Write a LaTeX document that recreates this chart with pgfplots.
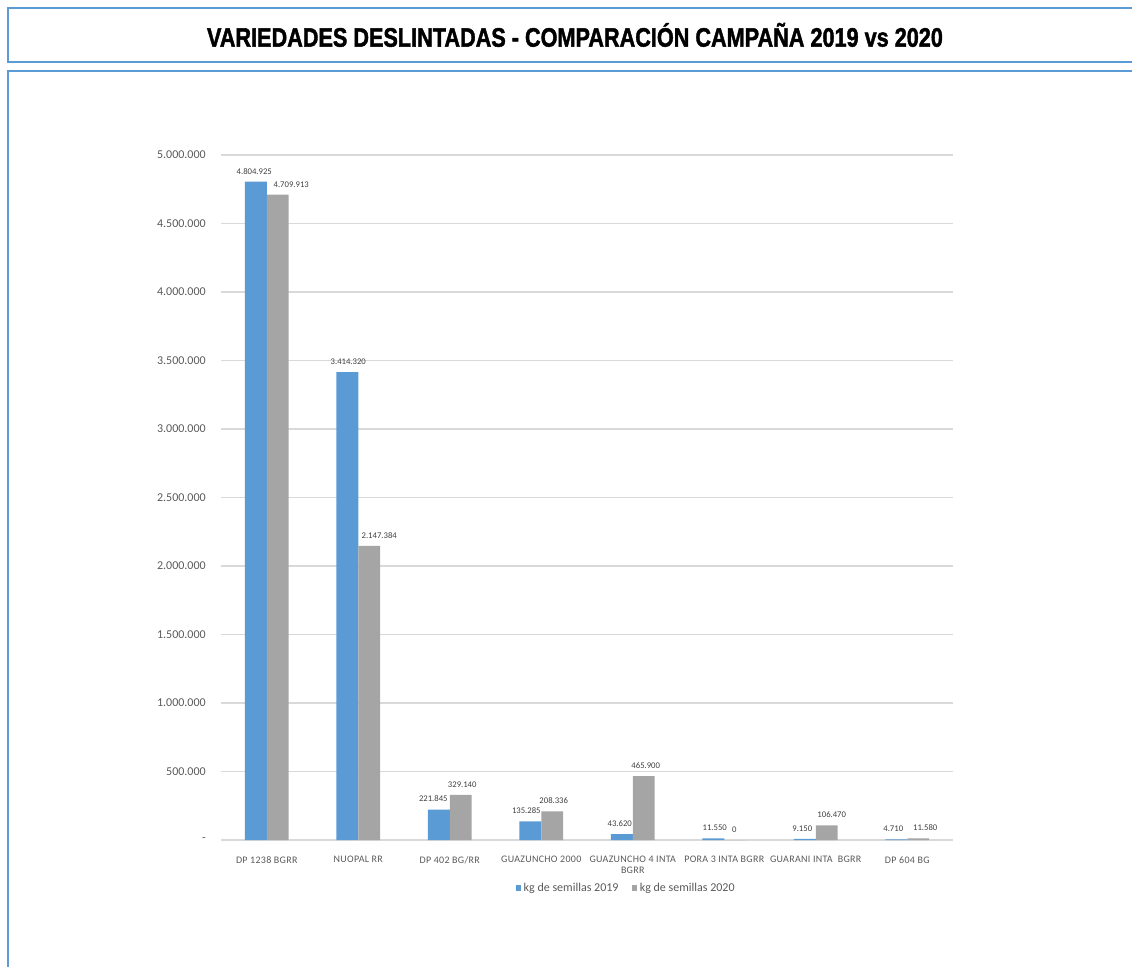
\documentclass[border=0pt]{standalone}
\usepackage{pgfplots}
\pgfplotsset{compat=1.18}
\usepackage{pgfplotstable}
\usepackage{fontspec}
\usepackage{graphicx}
\setmainfont{Carlito}
\newfontfamily\titlefont[FakeBold=1.8]{Liberation Sans}
\definecolor{bblue}{HTML}{5B9BD5}
\definecolor{bgray}{HTML}{A5A5A5}
\definecolor{gridc}{HTML}{D9D9D9}
\definecolor{txt}{HTML}{595959}
\definecolor{lbl}{HTML}{404040}
\definecolor{border}{HTML}{5B9BD5}
% label shifted horizontally by #1 px (1px = 0.75pt)
\newcommand\lb[2]{\makebox[0pt]{\hspace*{\dimexpr #1pt*3/2\relax}#2}}

\pgfplotstableread{
x y lab
0 4804925 \lb{-1.5}{4.804.925}
1 3414320 \lb{1}{3.414.320}
2 221845 \lb{-5.5}{221.845}
3 135285 \lb{-4}{135.285}
4 43620 \lb{-2}{43.620}
5 11550 \lb{1.5}{11.550}
6 9150 \lb{-2.5}{9.150}
7 4710 \lb{-3}{4.710}
}\tabA

\pgfplotstableread{
x y lab
0 4709913 \lb{13.5}{4.709.913}
1 2147384 \lb{10}{2.147.384}
2 329140 \lb{1.5}{329.140}
3 208336 \lb{1.5}{208.336}
4 465900 \lb{2}{465.900}
5 0 \lb{-1}{0}
6 106470 \lb{5}{106.470}
7 11580 \lb{7}{11.580}
}\tabB

\pgfplotsset{sq legend/.style={legend image code/.code={\fill[##1,draw=none] (-1.5pt,-2pt) rectangle (2.5pt,2pt);}}}

\begin{document}
\begin{tikzpicture}
\useasboundingbox (0,0) rectangle (849pt,-725.25pt);
\draw[border, line width=1.5pt] (6pt,-6pt) rectangle (870pt,-46.5pt);
\draw[border, line width=1.5pt] (6pt,-53.25pt) rectangle (870pt,-740pt);
\node[anchor=base, inner sep=0pt] at (431.25pt,-35pt) {\resizebox{552pt}{\height}{\titlefont\bfseries\fontsize{20}{20}\selectfont VARIEDADES DESLINTADAS - COMPARACIÓN CAMPAÑA 2019 vs 2020}};
\begin{axis}[
  at={(165.75pt,-630pt)}, anchor=south west,
  scale only axis, width=549pt, height=513.75pt,
  xmin=-0.5, xmax=7.5, ymin=0, ymax=5000000,
  enlargelimits=false, clip=false,
  ybar=0pt, bar width=0.24,
  axis line style={draw=none},
  major tick length=0pt,
  ymajorgrids, major grid style={gridc, line width=0.9pt},
  ytick={0,500000,1000000,1500000,2000000,2500000,3000000,3500000,4000000,4500000,5000000},
  yticklabels={{-\hspace{4pt}},500.000,1.000.000,1.500.000,2.000.000,2.500.000,3.000.000,3.500.000,4.000.000,4.500.000,5.000.000},
  scaled y ticks=false,
  /pgf/number format/assume math mode=true,
  xtick={0,1,2,3,4,5,6,7},
  xticklabels={DP 1238 BGRR, NUOPAL RR, DP 402 BG/RR, GUAZUNCHO 2000, {GUAZUNCHO 4 INTA\\BGRR}, PORA 3 INTA BGRR, GUARANI INTA\ \ BGRR, DP 604 BG},
  xticklabel style={font=\fontsize{7.5}{8.25}\selectfont\addfontfeature{LetterSpace=3}, text=txt, align=center, anchor=north, inner sep=0pt, yshift=-12pt},
  yticklabel style={font=\fontsize{9}{10}\selectfont, text=txt, anchor=east, inner sep=0pt, xshift=-11.25pt},
  legend style={at={(0.554,-0.0701)}, anchor=center, draw=none, fill=none, legend columns=2, font=\fontsize{9}{10}\selectfont, text=txt, /tikz/every even column/.append style={column sep=8pt}},
  point meta=explicit symbolic,
  nodes near coords,
  nodes near coords style={font=\fontsize{6.5}{7}\selectfont, text=lbl, anchor=south, inner sep=0pt, yshift=5.5pt},
]
\addplot[fill=bblue, draw=none, sq legend] table[x=x, y=y, meta=lab] {\tabA};
\addlegendentry{kg de semillas 2019}
\addplot[fill=bgray, draw=none, sq legend] table[x=x, y=y, meta=lab] {\tabB};
\addlegendentry{kg de semillas 2020}
\end{axis}
\end{tikzpicture}
\end{document}
